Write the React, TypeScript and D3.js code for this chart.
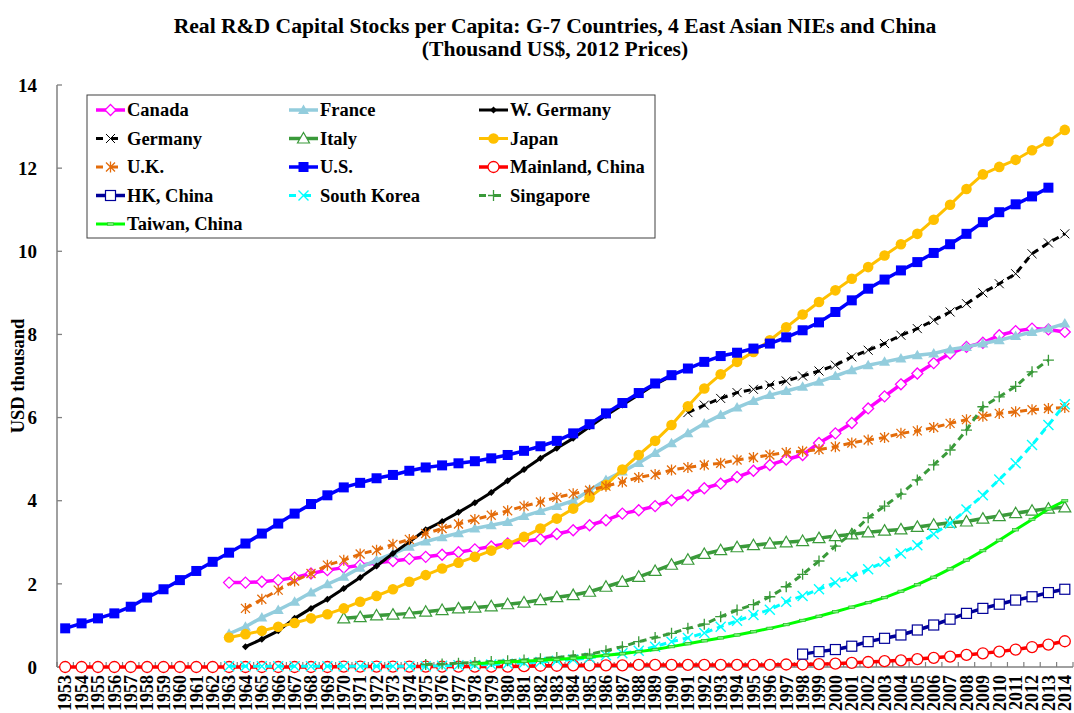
import React from "react";
import * as d3 from "d3";

const YEARS = [
  1953, 1954, 1955, 1956, 1957, 1958, 1959, 1960, 1961, 1962, 1963, 1964, 1965, 1966, 1967, 1968,
  1969, 1970, 1971, 1972, 1973, 1974, 1975, 1976, 1977, 1978, 1979, 1980, 1981, 1982, 1983, 1984,
  1985, 1986, 1987, 1988, 1989, 1990, 1991, 1992, 1993, 1994, 1995, 1996, 1997, 1998, 1999, 2000,
  2001, 2002, 2003, 2004, 2005, 2006, 2007, 2008, 2009, 2010, 2011, 2012, 2013, 2014,
];
const Y_TICKS = [0, 2, 4, 6, 8, 10, 12, 14];

const TITLE_1 = "Real R&D Capital Stocks per Capita: G-7 Countries, 4 East Asian NIEs and China";
const TITLE_2 = "(Thousand US$, 2012 Prices)";
const Y_TITLE = "USD thousand";

// Series data (thousand US$, 2012 prices)
const CANADA_START = 1963;
const CANADA = [
  2.03, 2.03, 2.05, 2.09, 2.15, 2.25, 2.33, 2.39, 2.45, 2.51, 2.55, 2.6, 2.65, 2.7, 2.76, 2.83, 2.9,
  2.97, 3.02, 3.08, 3.2, 3.29, 3.41, 3.53, 3.69, 3.77, 3.87, 4.01, 4.13, 4.3, 4.41, 4.57, 4.72, 4.86,
  4.99, 5.1, 5.39, 5.62, 5.87, 6.22, 6.51, 6.8, 7.06, 7.31, 7.54, 7.7, 7.8, 7.98, 8.08, 8.14, 8.12, 8.06,
];
const FRANCE_START = 1963;
const FRANCE = [
  0.8, 0.97, 1.19, 1.37, 1.57, 1.79, 1.99, 2.17, 2.39, 2.57, 2.73, 2.89, 3.02, 3.12, 3.22, 3.33, 3.41,
  3.49, 3.63, 3.75, 3.87, 4.0, 4.25, 4.5, 4.7, 4.91, 5.15, 5.38, 5.62, 5.86, 6.06, 6.24, 6.4, 6.54,
  6.64, 6.74, 6.86, 7.0, 7.14, 7.26, 7.34, 7.42, 7.5, 7.54, 7.64, 7.7, 7.78, 7.86, 7.96, 8.06, 8.14, 8.26,
];
const WGERMANY_START = 1964;
const WGERMANY = [
  0.49, 0.67, 0.87, 1.17, 1.41, 1.63, 1.89, 2.15, 2.43, 2.73, 3.01, 3.3, 3.5, 3.72, 3.95, 4.2, 4.48,
  4.75, 5.02, 5.26, 5.5, 5.78, 6.05, 6.3, 6.55, 6.8, 7.0,
];
const GERMANY_START = 1991;
const GERMANY = [
  6.12, 6.3, 6.46, 6.6, 6.68, 6.78, 6.88, 7.0, 7.12, 7.26, 7.46, 7.62, 7.78, 7.98, 8.14, 8.34, 8.54,
  8.74, 9.0, 9.22, 9.46, 9.94, 10.2, 10.42,
];
const ITALY_START = 1970;
const ITALY = [
  1.17, 1.2, 1.24, 1.26, 1.29, 1.33, 1.37, 1.41, 1.43, 1.46, 1.51, 1.55, 1.61, 1.68, 1.73, 1.81, 1.93,
  2.05, 2.17, 2.31, 2.46, 2.58, 2.72, 2.81, 2.88, 2.93, 2.97, 3.0, 3.03, 3.1, 3.15, 3.19, 3.24, 3.28,
  3.31, 3.37, 3.42, 3.47, 3.5, 3.57, 3.63, 3.7, 3.76, 3.81, 3.84,
];
const JAPAN_START = 1963;
const JAPAN = [
  0.71, 0.79, 0.87, 0.97, 1.06, 1.17, 1.27, 1.41, 1.57, 1.71, 1.87, 2.05, 2.21, 2.37, 2.51, 2.65, 2.8,
  2.96, 3.13, 3.33, 3.57, 3.81, 4.08, 4.38, 4.75, 5.1, 5.44, 5.82, 6.27, 6.7, 7.04, 7.34, 7.58, 7.86,
  8.17, 8.48, 8.78, 9.06, 9.34, 9.62, 9.9, 10.17, 10.42, 10.76, 11.12, 11.5, 11.85, 12.03, 12.2, 12.43,
  12.64, 12.92,
];
const UK_START = 1964;
const UK = [
  1.41, 1.63, 1.85, 2.07, 2.25, 2.45, 2.57, 2.72, 2.81, 2.95, 3.07, 3.21, 3.33, 3.44, 3.55, 3.65, 3.76,
  3.87, 3.97, 4.08, 4.17, 4.25, 4.35, 4.45, 4.56, 4.63, 4.74, 4.8, 4.86, 4.9, 4.98, 5.04, 5.1, 5.16,
  5.19, 5.23, 5.3, 5.39, 5.46, 5.52, 5.62, 5.68, 5.76, 5.86, 5.95, 6.03, 6.1, 6.14, 6.19, 6.22, 6.24,
];
const US_START = 1953;
const US = [
  0.93, 1.05, 1.17, 1.29, 1.45, 1.67, 1.87, 2.09, 2.31, 2.53, 2.75, 2.97, 3.21, 3.45, 3.69, 3.92, 4.13,
  4.32, 4.43, 4.54, 4.62, 4.72, 4.8, 4.85, 4.9, 4.95, 5.02, 5.1, 5.2, 5.31, 5.44, 5.62, 5.84, 6.1, 6.35,
  6.59, 6.82, 7.02, 7.18, 7.34, 7.48, 7.56, 7.66, 7.78, 7.93, 8.1, 8.29, 8.54, 8.82, 9.1, 9.32, 9.54,
  9.74, 9.96, 10.17, 10.42, 10.7, 10.94, 11.13, 11.32, 11.53,
];
const CHINA_START = 1953;
const CHINA = [
  0.0, 0.0, 0.0, 0.0, 0.0, 0.0, 0.0, 0.0, 0.0, 0.0, 0.0, 0.0, 0.0, 0.0, 0.0, 0.0, 0.0, 0.01, 0.01,
  0.01, 0.01, 0.01, 0.01, 0.01, 0.01, 0.01, 0.01, 0.01, 0.02, 0.03, 0.03, 0.04, 0.04, 0.04, 0.04, 0.05,
  0.05, 0.05, 0.05, 0.05, 0.05, 0.05, 0.05, 0.05, 0.06, 0.06, 0.07, 0.08, 0.1, 0.12, 0.14, 0.16, 0.19,
  0.22, 0.25, 0.29, 0.33, 0.37, 0.42, 0.48, 0.54, 0.62,
];
const HK_START = 1998;
const HK = [0.31, 0.37, 0.42, 0.5, 0.61, 0.69, 0.77, 0.89, 1.01, 1.15, 1.29, 1.41, 1.51, 1.61, 1.69, 1.79, 1.87];
const KOREA_START = 1963;
const KOREA = [
  0.02, 0.02, 0.02, 0.02, 0.02, 0.02, 0.02, 0.02, 0.02, 0.02, 0.02, 0.02, 0.02, 0.03, 0.04, 0.05, 0.06,
  0.08, 0.1, 0.12, 0.15, 0.18, 0.22, 0.28, 0.33, 0.39, 0.49, 0.61, 0.7, 0.82, 0.97, 1.11, 1.25, 1.38,
  1.57, 1.71, 1.87, 2.03, 2.17, 2.35, 2.53, 2.73, 2.93, 3.2, 3.45, 3.79, 4.13, 4.51, 4.9, 5.34, 5.82, 6.32,
];
const SINGAPORE_START = 1975;
const SINGAPORE = [
  0.06, 0.07, 0.09, 0.11, 0.13, 0.15, 0.17, 0.2, 0.23, 0.27, 0.31, 0.39, 0.49, 0.61, 0.71, 0.81, 0.93,
  1.03, 1.21, 1.37, 1.5, 1.69, 1.93, 2.23, 2.55, 2.91, 3.21, 3.59, 3.87, 4.16, 4.5, 4.86, 5.22, 5.7,
  6.26, 6.5, 6.75, 7.1, 7.38,
];
const TAIWAN_START = 1978;
const TAIWAN = [
  0.08, 0.1, 0.12, 0.14, 0.16, 0.18, 0.21, 0.24, 0.28, 0.32, 0.37, 0.42, 0.49, 0.56, 0.63, 0.7, 0.77,
  0.85, 0.93, 1.02, 1.12, 1.22, 1.33, 1.44, 1.55, 1.67, 1.82, 1.98, 2.16, 2.36, 2.57, 2.8, 3.05, 3.3,
  3.55, 3.8, 4.0,
];

type Marker =
  | "diamondOpen" | "triangleFilled" | "diamondSmall" | "x" | "triangleOpen" | "circleFilled"
  | "asterisk" | "squareFilled" | "circleOpen" | "squareOpen" | "xCyan" | "plus" | "dash";

interface Series {
  name: string;
  start: number;
  values: number[];
  color: string;
  markerColor: string;
  width: number;
  dash?: string;
  marker: Marker;
}

const SERIES: Series[] = [
  { name: "Canada", start: CANADA_START, values: CANADA, color: "#FF00FF", markerColor: "#FF00FF", width: 3.5, marker: "diamondOpen" },
  { name: "France", start: FRANCE_START, values: FRANCE, color: "#93CDDD", markerColor: "#93CDDD", width: 3.5, marker: "triangleFilled" },
  { name: "W. Germany", start: WGERMANY_START, values: WGERMANY, color: "#000000", markerColor: "#000000", width: 3, marker: "diamondSmall" },
  { name: "Germany", start: GERMANY_START, values: GERMANY, color: "#000000", markerColor: "#000000", width: 3, dash: "7,5", marker: "x" },
  { name: "Italy", start: ITALY_START, values: ITALY, color: "#3A9A3A", markerColor: "#3A9A3A", width: 3.5, marker: "triangleOpen" },
  { name: "Japan", start: JAPAN_START, values: JAPAN, color: "#FFC000", markerColor: "#FFC000", width: 3, marker: "circleFilled" },
  { name: "U.K.", start: UK_START, values: UK, color: "#E46C0A", markerColor: "#E46C0A", width: 3, dash: "7,5", marker: "asterisk" },
  { name: "U.S.", start: US_START, values: US, color: "#0000FF", markerColor: "#0000FF", width: 3.5, marker: "squareFilled" },
  { name: "Mainland, China", start: CHINA_START, values: CHINA, color: "#FF0000", markerColor: "#FF0000", width: 3.5, marker: "circleOpen" },
  { name: "HK, China", start: HK_START, values: HK, color: "#000099", markerColor: "#000099", width: 3.5, marker: "squareOpen" },
  { name: "South Korea", start: KOREA_START, values: KOREA, color: "#00FFFF", markerColor: "#00FFFF", width: 3, dash: "7,5", marker: "xCyan" },
  { name: "Singapore", start: SINGAPORE_START, values: SINGAPORE, color: "#3A9A3A", markerColor: "#3A9A3A", width: 3, dash: "7,5", marker: "plus" },
  { name: "Taiwan, China", start: TAIWAN_START, values: TAIWAN, color: "#00FF00", markerColor: "#2FB62F", width: 3, marker: "dash" },
];

const FONT = "'Liberation Serif', 'Times New Roman', Times, serif";

function MarkerShape({ type, x, y, color }: { type: Marker; x: number; y: number; color: string }) {
  switch (type) {
    case "diamondOpen":
      return <path d={`M${x},${y - 5.5}L${x + 5.5},${y}L${x},${y + 5.5}L${x - 5.5},${y}Z`} fill="#fff" stroke={color} strokeWidth={1.3} />;
    case "triangleFilled":
      return <path d={`M${x},${y - 5.5}L${x + 5.5},${y + 4}L${x - 5.5},${y + 4}Z`} fill={color} />;
    case "diamondSmall":
      return <path d={`M${x},${y - 3.5}L${x + 3.5},${y}L${x},${y + 3.5}L${x - 3.5},${y}Z`} fill={color} />;
    case "x":
      return <path d={`M${x - 4.5},${y - 4.5}L${x + 4.5},${y + 4.5}M${x - 4.5},${y + 4.5}L${x + 4.5},${y - 4.5}`} stroke={color} strokeWidth={1} fill="none" />;
    case "triangleOpen":
      return <path d={`M${x},${y - 6}L${x + 6},${y + 4.5}L${x - 6},${y + 4.5}Z`} fill="#fff" stroke={color} strokeWidth={1.2} />;
    case "circleFilled":
      return <circle cx={x} cy={y} r={5.3} fill={color} />;
    case "asterisk":
      return (
        <path
          d={`M${x - 4.5},${y - 4.5}L${x + 4.5},${y + 4.5}M${x - 4.5},${y + 4.5}L${x + 4.5},${y - 4.5}M${x},${y - 5.5}L${x},${y + 5.5}`}
          stroke={color}
          strokeWidth={1.3}
          fill="none"
        />
      );
    case "squareFilled":
      return <rect x={x - 5} y={y - 5} width={10} height={10} fill={color} />;
    case "circleOpen":
      return <circle cx={x} cy={y} r={5.5} fill="#fff" stroke={color} strokeWidth={1.3} />;
    case "squareOpen":
      return <rect x={x - 5} y={y - 5} width={10} height={10} fill="#fff" stroke={color} strokeWidth={1.2} />;
    case "xCyan":
      return <path d={`M${x - 5},${y - 5}L${x + 5},${y + 5}M${x - 5},${y + 5}L${x + 5},${y - 5}`} stroke={color} strokeWidth={1.4} fill="none" />;
    case "plus":
      return <path d={`M${x - 5.5},${y}L${x + 5.5},${y}M${x},${y - 5.5}L${x},${y + 5.5}`} stroke={color} strokeWidth={1.3} fill="none" />;
    case "dash":
      return <rect x={x - 3} y={y - 1.2} width={6} height={2.4} fill="#7CFC7C" stroke={color} strokeWidth={0.7} />;
  }
  return null;
}

export default function App() {
  const plotLeft = 57;
  const plotRight = 1073;
  const x = d3.scaleBand<string>().domain(YEARS.map(String)).range([plotLeft, plotRight]).padding(0);
  const bw = x.bandwidth();
  const cx = (yr: number) => (x(String(yr)) as number) + bw / 2;
  const y = d3.scaleLinear().domain([0, 14]).range([667, 85]);
  const line = d3
    .line<[number, number]>()
    .x((d) => cx(d[0]))
    .y((d) => y(d[1]));

  const axisColor = "#808080";

  // legend layout
  const legendCols = [96, 289, 479];
  const legendRow0 = 110;
  const legendRowStep = 28.5;

  return (
    <svg
      width={1074}
      height={713}
      style={{ position: "absolute", left: 0, top: 0, display: "block", background: "#fff" }}
      fontFamily={FONT}
      fontWeight="bold"
    >
      <rect x={0} y={0} width={1074} height={713} fill="#fff" />
      {/* Title */}
      <text x={555} y={33} textAnchor="middle" fontSize={21.6}>
        {TITLE_1}
      </text>
      <text x={555} y={56} textAnchor="middle" fontSize={21.6}>
        {TITLE_2}
      </text>

      {/* Y axis */}
      <line x1={plotLeft} x2={plotLeft} y1={y(14)} y2={y(0)} stroke={axisColor} strokeWidth={1.5} />
      {Y_TICKS.map((t) => (
        <g key={"yt" + t}>
          <line x1={plotLeft} x2={plotLeft + 5} y1={y(t)} y2={y(t)} stroke={axisColor} strokeWidth={1.3} />
          <text x={37} y={y(t)} dy="0.35em" textAnchor="end" fontSize={19}>
            {t}
          </text>
        </g>
      ))}
      <text transform={`translate(24,376) rotate(-90)`} textAnchor="middle" fontSize={18.5}>
        {Y_TITLE}
      </text>

      {/* X axis */}
      <line x1={plotLeft} x2={plotRight} y1={y(0)} y2={y(0)} stroke={axisColor} strokeWidth={1.5} />
      {YEARS.map((yr, i) => (
        <line
          key={"xt" + yr}
          x1={plotLeft + i * bw}
          x2={plotLeft + i * bw}
          y1={y(0)}
          y2={y(0) - 5}
          stroke={axisColor}
          strokeWidth={1.2}
        />
      ))}
      <line x1={plotLeft} x2={plotLeft} y1={y(0)} y2={y(0) - 5} stroke={axisColor} strokeWidth={1.2} />
      <line x1={plotRight} x2={plotRight} y1={y(0)} y2={y(0) - 5} stroke={axisColor} strokeWidth={1.2} />
      {YEARS.map((yr) => (
        <text
          key={"xl" + yr}
          transform={`translate(${cx(yr) + 6.3},675) rotate(-90)`}
          textAnchor="end"
          fontSize={18}
        >
          {yr}
        </text>
      ))}

      {/* Series */}
      {SERIES.map((s) => {
        const pts: [number, number][] = s.values.map((v, i) => [s.start + i, v]);
        return (
          <g key={s.name}>
            <path
              d={line(pts) || ""}
              fill="none"
              stroke={s.color}
              strokeWidth={s.width}
              strokeDasharray={s.dash}
              strokeLinejoin="round"
            />
            {pts.map((p) => (
              <MarkerShape key={p[0]} type={s.marker} x={cx(p[0])} y={y(p[1])} color={s.markerColor} />
            ))}
          </g>
        );
      })}

      {/* Legend */}
      <rect x={87} y={95} width={568} height={143} fill="#fff" stroke="#404040" strokeWidth={1} />
      {SERIES.map((s, i) => {
        const col = i % 3;
        const row = Math.floor(i / 3);
        const lx = legendCols[col];
        const ly = legendRow0 + row * legendRowStep;
        return (
          <g key={"lg" + s.name}>
            <line
              x1={lx}
              x2={lx + 29}
              y1={ly}
              y2={ly}
              stroke={s.color}
              strokeWidth={s.width}
              strokeDasharray={s.dash ? "7,8" : undefined}
            />
            <MarkerShape type={s.marker} x={lx + 14.5} y={ly} color={s.markerColor} />
            <text x={lx + 31} y={ly} dy="0.35em" fontSize={18.5}>
              {s.name}
            </text>
          </g>
        );
      })}
    </svg>
  );
}
